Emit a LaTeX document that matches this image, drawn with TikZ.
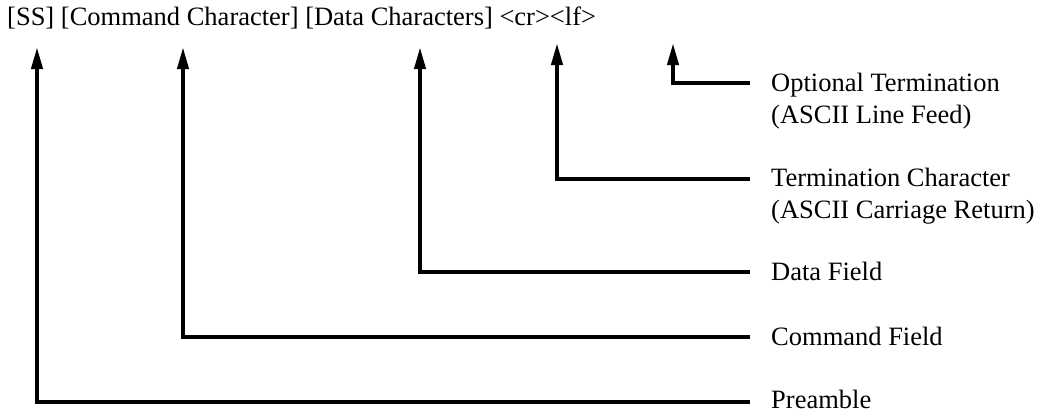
\documentclass[tikz,border=0pt]{standalone}
\usepackage{fontspec}
\setmainfont{Liberation Serif}
\usetikzlibrary{arrows.meta}
\begin{document}
\begin{tikzpicture}[x=1pt,y=-1pt,
  lbl/.style={inner sep=0pt,font=\fontsize{26.5}{32}\selectfont,align=left},
  conn/.style={line width=4pt,line join=miter,-{Triangle[length=22pt,width=11pt]}}]
\useasboundingbox (0,0) rectangle (1041,415);
\node[lbl,anchor=base west] (fmt) at (7,25) {[SS] [Command Character] [Data Characters] <cr><lf>};
% arrow tips
\coordinate (tss) at (37,47);
\coordinate (tcmd) at (183,47);
\coordinate (tdata) at (420,47);
\coordinate (tcr) at (557,43);
\coordinate (tlf) at (673,43);
% labels
\node[lbl,anchor=base west] (lopt) at (771,123) {Optional Termination\\(ASCII Line Feed)};
\node[lbl,anchor=base west] (lterm) at (771,218) {Termination Character\\(ASCII Carriage Return)};
\node[lbl,anchor=base west] (ldata) at (771,280) {Data Field};
\node[lbl,anchor=base west] (lcmd) at (771,345) {Command Field};
\node[lbl,anchor=base west] (lpre) at (771,408) {Preamble};
% line starts
\coordinate (sopt) at (750,83);
\coordinate (sterm) at (750,179);
\coordinate (sdata) at (750,272);
\coordinate (scmd) at (750,337);
\coordinate (spre) at (750,402);
\draw[conn] (sopt) -| (tlf);
\draw[conn] (sterm) -| (tcr);
\draw[conn] (sdata) -| (tdata);
\draw[conn] (scmd) -| (tcmd);
\draw[conn] (spre) -| (tss);
\end{tikzpicture}
\end{document}
